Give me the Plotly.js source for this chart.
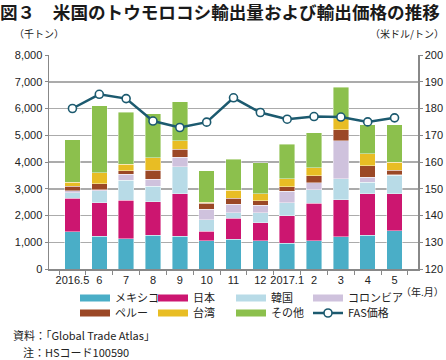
<!DOCTYPE html>
<html><head><meta charset="utf-8">
<script src="https://cdn.plot.ly/plotly-3.0.1.min.js"></script>
<style>html,body{margin:0;padding:0;background:#fff}#chart{width:446px;height:360px}</style>
</head><body><div id="chart"></div>
<script>
// Categories (year.month)
const months = ["2016.5","6","7","8","9","10","11","12","2017.1","2","3","4","5"];
// Export volume by destination (thousand tonnes)
const mexico   = [1400,1220,1130,1270,1230,1060,1110,1060, 960,1060,1210,1270,1430];
const japan    = [1250,1250,1440,1240,1590, 360, 780, 670,1030,1390,1380,1540,1380];
const korea    = [ 200, 460, 740, 590,1000, 420, 220, 370, 490, 520, 780, 440, 700];
const colombia = [  70,  40, 230, 260, 360, 400, 320, 280, 420, 250,1430, 180,  20];
const peru     = [ 180, 210, 130, 330, 290, 210, 220, 180, 180, 260, 400, 430, 160];
const taiwan   = [ 150, 420, 250, 460, 320,  50, 290, 250, 290, 310, 410, 440, 310];
const others   = [1580,2500,1940,1660,1470,1170,1160,1170,1290,1300,1190,1100,1390];
// FAS price (US$/tonne)
const fasPrice = [180.0,185.3,183.7,175.3,172.9,174.9,184.0,178.5,176.0,177.0,176.8,175.0,176.5];

const seriesNames = ["メキシコ","日本","韓国","コロンビア","ペルー","台湾","その他"];
const seriesData = [mexico,japan,korea,colombia,peru,taiwan,others];
const colors = ["#4aaec7","#cc1670","#b8dbe7","#cfc2dd","#9b4826","#e8bd24","#8cc04d"];
const lineColor = "#1c5a6f";

const legendIds = ["legend","legend2","legend3","legend4","legend5","legend6","legend7","legend8"];

const traces = [];
seriesData.forEach((d,i)=>{
  traces.push({type:"bar", x:months, y:d, name:seriesNames[i], showlegend:false,
    marker:{color:colors[i], line:{color:"rgba(255,255,255,0.7)", width:0.6}}, hoverinfo:"y+name"});
});
// legend entries (long swatches)
seriesNames.forEach((n,i)=>{
  traces.push({type:"scatter", mode:"lines", x:[null], y:[null], name:n,
    line:{color:colors[i], width:7}, legend: legendIds[i], hoverinfo:"skip"});
});
traces.push({type:"scatter", mode:"lines+markers", x:months, y:fasPrice, name:"FAS価格", yaxis:"y2",
  legend:"legend8",
  line:{color:lineColor, width:2.5},
  marker:{symbol:"circle", size:8, color:"#ffffff", line:{color:lineColor, width:1.6}}});

const jp = "'Noto Sans CJK JP', 'Noto Sans', sans-serif";
const num = "'Liberation Sans', Arial, sans-serif";
const PL = 49, PR = 418, PW = PR-PL;
const PT = 55, PB = 269, PH = PB-PT;
const px = v => (v-PL)/PW;
const py = v => (PB - v)/PH;

const layout = {
  width:446, height:360,
  margin:{l:PL, r:446-PR, t:PT, b:360-PB},
  paper_bgcolor:"#fff", plot_bgcolor:"#fff",
  barmode:"stack", bargap:0.42,
  title:{text:"図３　米国のトウモロコシ輸出量および輸出価格の推移", xref:"container", x:0, xanchor:"left",
    yref:"container", y:(360-13)/360, yanchor:"middle", pad:{l:0,r:0,t:0,b:0},
    font:{family:jp, size:17.6, color:"#1a1a1a", weight:"bold"}},
  font:{family:num, size:11, color:"#222"},
  xaxis:{type:"category", showgrid:false, showline:true, linecolor:"#888", linewidth:1.5,
    ticks:"outside", tickson:"boundaries", ticklen:4, tickcolor:"#888", tickwidth:1, tickangle:0,
    tickfont:{family:num, size:11, color:"#222"}, zeroline:false},
  yaxis:{range:[0,8000], dtick:1000, tickformat:",d", showgrid:true, gridcolor:"#ababab", gridwidth:1.5,
    showline:true, linecolor:"#888", linewidth:1.5, ticks:"outside", ticklen:3, tickcolor:"#888",
    zeroline:false, tickfont:{family:num, size:11, color:"#222"}},
  yaxis2:{range:[120,200], dtick:10, overlaying:"y", side:"right", showgrid:false,
    showline:true, linecolor:"#888", linewidth:1.5, ticks:"outside", ticklen:3, tickcolor:"#888",
    zeroline:false, tickfont:{family:num, size:11, color:"#222"}},
  annotations:[
    {text:"（千トン）", xref:"paper", yref:"paper", x:px(12), y:py(33), xanchor:"left", yanchor:"middle",
      showarrow:false, font:{family:jp, size:10, color:"#222"}},
    {text:"（米ドル/トン）", xref:"paper", yref:"paper", x:px(446), y:py(33), xanchor:"right", yanchor:"middle",
      showarrow:false, font:{family:jp, size:10, color:"#222"}},
    {text:"（年.月）", xref:"paper", yref:"paper", x:px(446), y:py(291), xanchor:"right", yanchor:"middle",
      showarrow:false, font:{family:jp, size:10, color:"#222"}},
    {text:"資料：「Global Trade Atlas」", xref:"paper", yref:"paper", x:px(11), y:py(335), xanchor:"left", yanchor:"middle",
      showarrow:false, font:{family:jp, size:11, color:"#222"}},
    {text:"注：HSコード100590", xref:"paper", yref:"paper", x:px(21), y:py(352), xanchor:"left", yanchor:"middle",
      showarrow:false, font:{family:jp, size:11, color:"#222"}}
  ]
};
// 8 single-item legends placed in a 4x2 grid
const legX = [75, 153, 231, 308];
const legY = [298, 313];
legendIds.forEach((id,i)=>{
  layout[id] = {orientation:"h", x:px(legX[i%4]), xref:"paper", xanchor:"left",
    y:py(legY[Math.floor(i/4)]), yref:"paper", yanchor:"middle",
    itemwidth:30, font:{family:jp, size:11, color:"#222"}, bgcolor:"rgba(0,0,0,0)", borderwidth:0};
});

Plotly.newPlot("chart", traces, layout, {displayModeBar:false, staticPlot:true});
</script>
</body></html>
